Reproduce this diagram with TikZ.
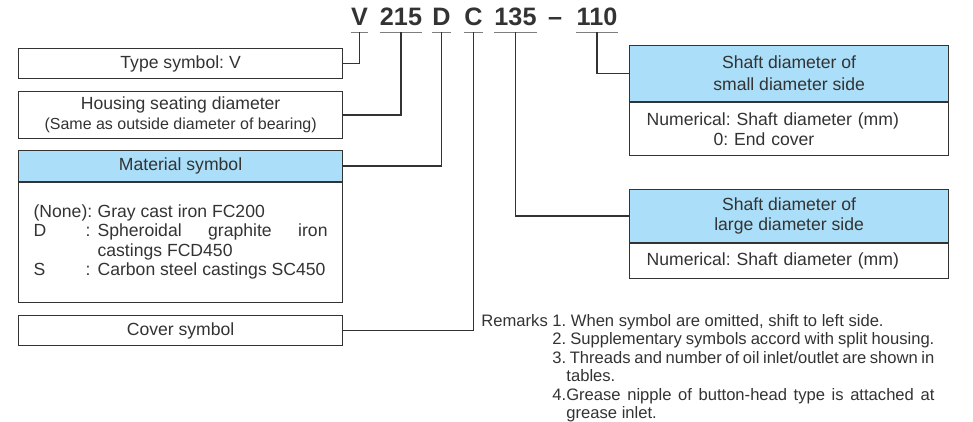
\documentclass[tikz,border=0pt]{standalone}
\usepackage{fontspec}
\setmainfont{Liberation Sans}
\usepackage{array}
\usetikzlibrary{positioning}
\definecolor{HeadBlue}{RGB}{171,222,248}
\definecolor{InkGray}{RGB}{51,51,51}
\definecolor{RuleGray}{RGB}{125,125,125}
\frenchspacing
\hyphenpenalty=10000
\exhyphenpenalty=10000

\begin{document}
\begin{tikzpicture}[
    x=0.5pt, y=-0.5pt,
    font=\fontsize{8.8}{10}\selectfont, text=InkGray,
    code/.style={font=\fontsize{12.6}{14}\selectfont\bfseries, inner xsep=0pt, inner ysep=3pt, text depth=0pt, anchor=base},
    uline/.style={draw=RuleGray, line width=0.8pt},
    box/.style={draw=InkGray, line width=0.6pt, minimum width=162pt, inner sep=0pt, align=center, anchor=north west},
    head/.style={box, fill=HeadBlue},
    conn/.style={draw=InkGray, line width=0.6pt}
]
\useasboundingbox (0,0) rectangle (973,422);

% type code
\node[code] (cV) at (359.5,26) {V};
\node[code] (c215) at (401,26) {215};
\node[code] (cD) at (441.5,26) {D};
\node[code] (cC) at (473.5,26) {C};
\node[code] (c135) at (515.5,26) {135};
\node[code] (cdash) at (555,26) {--};
\node[code] (c110) at (597,26) {110};
\foreach \c in {cV,c215,cD,cC,c135,c110}
    \draw[uline] (\c.south west) -- (\c.south east);

% left boxes
\node[box, minimum height=15pt] (type) at (18,48) {Type symbol: V};
\node[box, minimum height=23.5pt] (housing) at (18,91) {Housing seating diameter\\{\fontsize{8}{10}\selectfont(Same as outside diameter of bearing)}};
\node[head, minimum height=15.5pt] (mathead) at (18,150) {Material symbol};
\node[box, minimum height=60pt, below=0pt of mathead] (matbody) {%
    \fontsize{8.8}{9.75}\selectfont\tolerance=9999
    \begin{tabular}{@{}p{32pt}@{}p{115pt}@{}}
    (None): & Gray cast iron FC200\\
    D\hfill:\hspace*{3.5pt}\mbox{} & Spheroidal graphite iron castings FCD450\\
    S\hfill:\hspace*{3.5pt}\mbox{} & Carbon steel castings SC450
    \end{tabular}};
\node[box, minimum height=15pt] (cover) at (18,315) {Cover symbol};

% right boxes
\node[head, minimum width=159.5pt, minimum height=28pt] (smallhead) at (629,45) {Shaft diameter of\\[1pt]small diameter side};
\node[box, minimum width=159.5pt, minimum height=26.5pt, text width=142.5pt, inner xsep=8.5pt, align=left, below=0pt of smallhead] (smallbody) {Numerical: Shaft diameter (mm)\\\hspace*{33.5pt}0: End cover};
\node[head, minimum width=159.5pt, minimum height=26.5pt] (largehead) at (629,189) {Shaft diameter of\\large diameter side};
\node[box, minimum width=159.5pt, minimum height=17.5pt, text width=142.5pt, inner xsep=8.5pt, align=left, below=0pt of largehead] (largebody) {Numerical: Shaft diameter (mm)};

% remarks
\node[anchor=base west, inner sep=0pt] (remarks) at (481,326) {%
    \fontsize{8.3}{9.25}\selectfont
    \begin{tabular}[t]{@{}l@{\ }p{191pt}@{}}
    Remarks & 1. When symbol are omitted, shift to left side.\\
    & 2. Supplementary symbols accord with split housing.\\
    & \hangindent=7pt\hangafter=1 3. Threads and number of oil inlet/outlet are shown in\linebreak tables.\\
    & \hangindent=7pt\hangafter=1 4.Grease nipple of button-head type is attached at grease inlet.
    \end{tabular}};

% leaders
\draw[conn] (cV.south) |- (type.east);
\draw[conn] (c215.south) |- (housing.east);
\draw[conn] (cD.south) |- (mathead.east);
\draw[conn] (cC.south) |- (cover.east);
\draw[conn] (c135.south) |- (largehead.west);
\draw[conn] (c110.south) |- (smallhead.west);
\end{tikzpicture}
\end{document}
